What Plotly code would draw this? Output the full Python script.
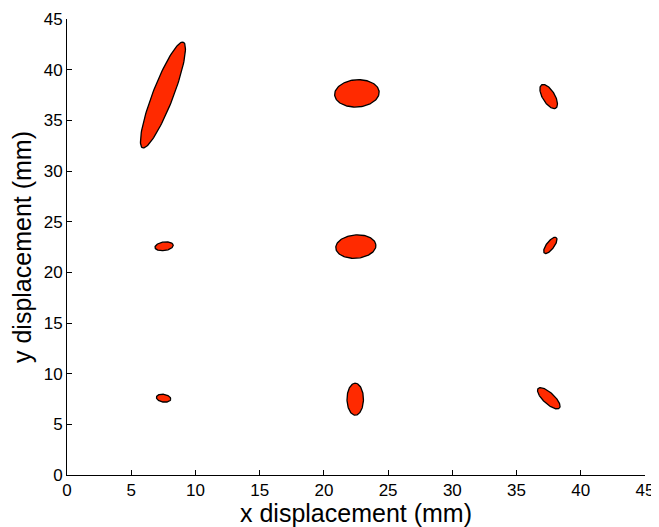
import numpy as np
import plotly.graph_objects as go

# Ellipse parameters (data units): centre, semi-major, semi-minor, angle (deg, in data space)
center_x = [7.47, 22.57, 37.50, 7.56, 22.49, 37.63, 7.52, 22.44, 37.51]
center_y = [37.50, 37.66, 37.35, 22.57, 22.54, 22.66, 7.58, 7.48, 7.57]
semi_a = [5.45, 1.74, 1.28, 0.72, 1.57, 0.90, 0.57, 1.58, 1.28]
semi_b = [0.82, 1.34, 0.50, 0.42, 1.15, 0.32, 0.38, 0.64, 0.48]
angle_deg = [73.3, 8.0, -66.7, 12.0, 8.0, 61.0, -15.0, 90.0, -51.7]

x_ticks = [0, 5, 10, 15, 20, 25, 30, 35, 40, 45]
y_ticks = [0, 5, 10, 15, 20, 25, 30, 35, 40, 45]

fig = go.Figure()
t = np.linspace(0, 2 * np.pi, 121)
for cx, cy, a, b, ang in zip(center_x, center_y, semi_a, semi_b, angle_deg):
    th = np.deg2rad(ang)
    xs = cx + a * np.cos(t) * np.cos(th) - b * np.sin(t) * np.sin(th)
    ys = cy + a * np.cos(t) * np.sin(th) + b * np.sin(t) * np.cos(th)
    fig.add_trace(go.Scatter(
        x=xs, y=ys, mode="lines", fill="toself",
        fillcolor="#ff2a00", line=dict(color="black", width=1.3),
        hoverinfo="skip", showlegend=False))

font_family = "Liberation Sans, Arial, Helvetica, sans-serif"
fig.update_layout(
    width=651, height=519,
    margin=dict(l=59, r=14, t=11, b=52),
    paper_bgcolor="white", plot_bgcolor="white",
    font=dict(family=font_family, color="black", size=17),
    xaxis=dict(
        range=[0, 45], tickvals=x_ticks, ticktext=[str(v) for v in x_ticks],
        showline=True, linecolor="black", linewidth=1, mirror=False,
        ticks="inside", ticklen=5, tickcolor="black", showgrid=False, zeroline=False,
        automargin=False,
        title=dict(text="x displacement (mm)", font=dict(size=25), standoff=4),
        tickfont=dict(size=17)),
    yaxis=dict(
        range=[0, 45], tickvals=y_ticks, ticktext=[str(v) for v in y_ticks],
        showline=True, linecolor="black", linewidth=1, mirror=False,
        ticks="inside", ticklen=5, tickcolor="black", showgrid=False, zeroline=False,
        automargin=False,
        title=dict(text="y displacement (mm)", font=dict(size=25), standoff=16),
        tickfont=dict(size=17)),
)

fig.write_html("out.html")
